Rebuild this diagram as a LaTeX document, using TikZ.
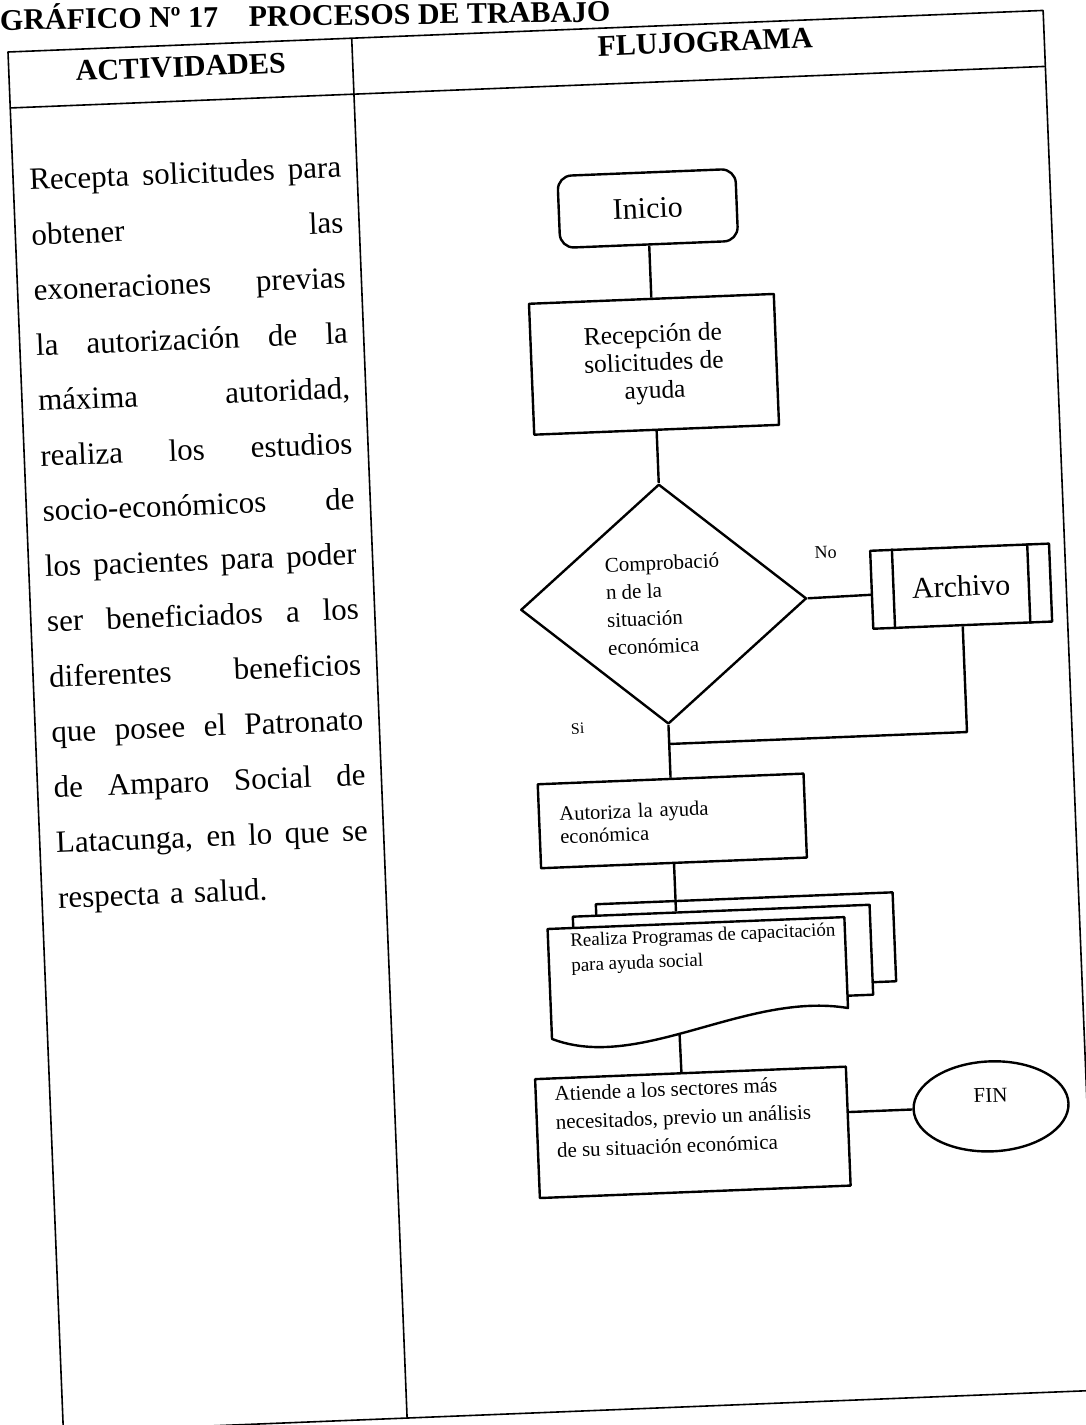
\documentclass[tikz,border=0pt]{standalone}
\usepackage{fontspec}
\setmainfont{Liberation Serif}
\usetikzlibrary{shapes.geometric}

\newcommand{\jline}[1]{\makebox[312pt][s]{\spaceskip=0.25em plus 1fil\relax #1}}

\begin{document}
\begin{tikzpicture}[
			x = 1pt,
			y = 1pt,
			line join = round,
			flow/.style = {line width=2.4pt},
			grid/.style = {line width=1.6pt}]

			\tikzstyle{every node}=[inner sep=0pt]
			\tikzstyle{box}=[
			draw = black,
			line width = 2.4pt,
			fill = white,
			rectangle]
			\tikzstyle{head}=[font=\fontsize{30}{34}\selectfont\bfseries]
			\tikzstyle{coltext}=[anchor=north west, text width=312pt, align=left, font=\fontsize{31}{55.3}\selectfont]
			\tikzstyle{startbox}=[box, rounded corners=14pt, minimum width=178pt, minimum height=72pt, font=\fontsize{30}{34}\selectfont]
			\tikzstyle{procbox}=[box, align=center]
			\tikzstyle{decision}=[box, diamond, minimum width=286pt, minimum height=240pt, align=left, font=\fontsize{21}{27.7}\selectfont]
			\tikzstyle{page}=[box, anchor=north west, minimum width=297pt, minimum height=90pt]
			\tikzstyle{endbox}=[box, ellipse, minimum width=155pt, minimum height=90pt]
			\tikzstyle{small}=[anchor=north west, align=left]

			\useasboundingbox (0,0) rectangle (1086,-1425);

			\node[head, anchor=base west, rotate=0.8] (titulo) at (0,-30) {GRÁFICO Nº 17\hspace{23pt} PROCESOS DE TRABAJO};

			\begin{scope}[shift={(8,-52)}, rotate=2.3, transform shape]

			\draw[grid] (0,0) rectangle (1036,-1381);
			\draw[grid] (0,-56) -- (1036,-56);
			\draw[grid] (344,0) -- (344,-1381);

			\node[head] (hact) at (172,-22) {ACTIVIDADES};
			\node[head] (hflu) at (697,-18) {FLUJOGRAMA};

			\node[coltext] (act) at (16,-117) {%
				\jline{Recepta solicitudes para}\\
				\jline{obtener las}\\
				\jline{exoneraciones previas}\\
				\jline{la autorización de la}\\
				\jline{máxima autoridad,}\\
				\jline{realiza los estudios}\\
				\jline{socio-económicos de}\\
				\jline{los pacientes para poder}\\
				\jline{ser beneficiados a los}\\
				\jline{diferentes beneficios}\\
				\jline{que posee el Patronato}\\
				\jline{de Amparo Social de}\\
				\jline{Latacunga, en lo que se}\\
				respecta a salud.};

			\node[startbox] (ini) at (633,-182) {Inicio};
			\node[procbox, minimum width=245pt, minimum height=131pt, font=\fontsize{25.5}{28}\selectfont] (rec) [below of=ini, node distance=156pt] {Recepción de\\solicitudes de\\ayuda};
			\node[decision] (dia) [below of=rec, node distance=240pt] {Comprobació\\n de la\\situación\\económica};
			\node[procbox, minimum width=179pt, minimum height=78pt, font=\fontsize{30}{34}\selectfont] (arc) at (931,-572) {Archivo};
			\draw[flow] ([xshift=23pt]arc.north west) -- ([xshift=23pt]arc.south west);
			\draw[flow] ([xshift=-23pt]arc.north east) -- ([xshift=-23pt]arc.south east);
			\node[procbox, minimum width=266pt, minimum height=84pt, text width=225pt, align=left, font=\fontsize{20.5}{23}\selectfont] (aut) [below of=dia, node distance=217pt] {Autoriza la ayuda\\económica};

			\node[font=\fontsize{18}{20}\selectfont] (no) at (797,-533) {No};
			\node[font=\fontsize{16}{18}\selectfont] (si) at (542,-699) {Si};

			\coordinate (prog) at (504,-898);
			\node[page, minimum height=89pt] (pgback) at ([shift={(48,24)}]prog) {};
			\node[page] (pgmid) at ([shift={(24.5,12.5)}]prog) {};
			\draw[box] (prog) -- (801,-898) -- (801,-989)
				.. controls (700,-968) and (590,-1045) .. coordinate[pos=0.55] (progbot) (504,-1008) -- cycle;
			\node[small, font=\fontsize{19}{25}\selectfont] (progtxt) at ([shift={(22,-5)}]prog) {Realiza Programas de capacitación\\para ayuda social};

			\node[procbox, minimum width=311pt, minimum height=119pt] (ati) at (641,-1107) {};
			\node[small, font=\fontsize{21}{28.5}\selectfont] (atitxt) at ([shift={(20,-9)}]ati.north west) {Atiende a los sectores más\\necesitados, previo un análisis\\de su situación económica};

			\node[endbox] (fin) at (940,-1093) {};
			\node[font=\fontsize{21}{24}\selectfont] (fintxt) at ([yshift=11pt]fin.center) {FIN};

			\coordinate (arcin) at (841.5,-577);
			\coordinate (fbk) at (931,-718);
			\coordinate (merge) at (633,-718);
			\coordinate (midtop) at (633,-885.5);
			\coordinate (atiin) at (632,-1048);
			\coordinate (atiout) at (796.5,-1093);

			\path (ini) edge[flow] (rec)
			(rec) edge[flow] (dia)
			(dia) edge[flow] (aut)
			(dia.east) edge[flow] (arcin)
			(aut) edge[flow] (midtop)
			(progbot) edge[flow] (atiin)
			(atiout) edge[flow] (fin);
			\draw[flow] (arc.south) -- (fbk) -- (merge);

			\end{scope}
		\end{tikzpicture}
\end{document}
